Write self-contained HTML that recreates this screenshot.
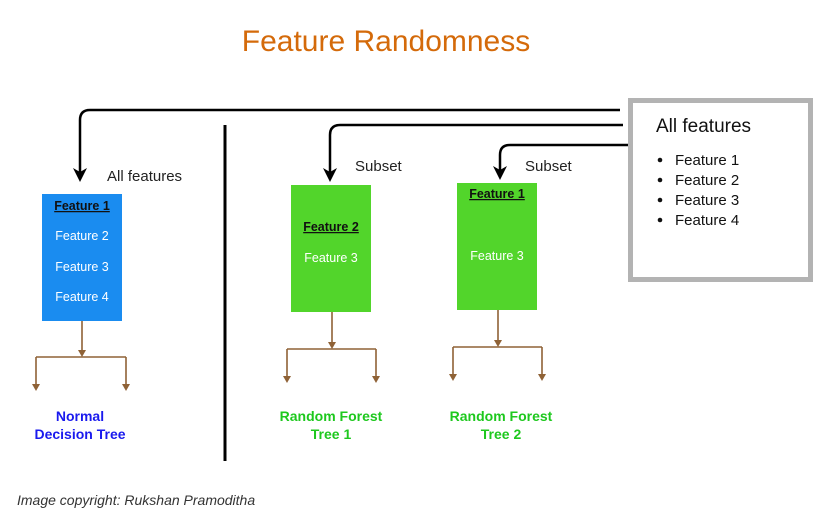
<!DOCTYPE html>
<html><head><style>
body{margin:0;background:#fff;width:823px;height:521px;overflow:hidden;font-family:"Liberation Sans",Arial,sans-serif}
</style></head><body>
<svg width="823" height="521" xmlns="http://www.w3.org/2000/svg" font-family="Liberation Sans, Arial, sans-serif">
<text x="386" y="51" font-size="30" fill="#d46a0a" text-anchor="middle">Feature Randomness</text>
<g fill="none" stroke="#000" stroke-width="2.5">
<path d="M620,110 H90 Q80,110 80,120 V172"/>
<path d="M623,125 H340 Q330,125 330,135 V172"/>
<path d="M630,145 H510 Q500,145 500,155 V170"/>
</g>
<g fill="#000">
<path d="M73,168 L80,182 L87,168 L80,172 Z"/>
<path d="M323,168 L330,182 L337,168 L330,172 Z"/>
<path d="M493,166 L500,180 L507,166 L500,170 Z"/>
</g>
<line x1="225" y1="125" x2="225" y2="461" stroke="#000" stroke-width="3"/>
<rect x="630.5" y="100.5" width="180" height="179" fill="#fff" stroke="#b3b3b3" stroke-width="5"/>
<text x="656" y="132" font-size="19" fill="#111">All features</text>
<g font-size="15" fill="#111">
<circle cx="660" cy="160" r="2.3"/><text x="675" y="165">Feature 1</text>
<circle cx="660" cy="180" r="2.3"/><text x="675" y="185">Feature 2</text>
<circle cx="660" cy="200" r="2.3"/><text x="675" y="205">Feature 3</text>
<circle cx="660" cy="220" r="2.3"/><text x="675" y="225">Feature 4</text>
</g>
<text x="107" y="181" font-size="15" fill="#222">All features</text>
<text x="355" y="171" font-size="15" fill="#222">Subset</text>
<text x="525" y="171" font-size="15" fill="#222">Subset</text>
<rect x="42" y="194" width="80" height="127" fill="#1a8cf0"/>
<rect x="291" y="185" width="80" height="127" fill="#52d52b"/>
<rect x="457" y="183" width="80" height="127" fill="#52d52b"/>
<g font-size="12.5" text-anchor="middle">
<text x="82" y="210" font-weight="bold" fill="#111" text-decoration="underline">Feature 1</text>
<text x="82" y="240" fill="#fff">Feature 2</text>
<text x="82" y="271" fill="#fff">Feature 3</text>
<text x="82" y="301" fill="#fff">Feature 4</text>
<text x="331" y="231" font-weight="bold" fill="#111" text-decoration="underline">Feature 2</text>
<text x="331" y="262" fill="#fff">Feature 3</text>
<text x="497" y="198" font-weight="bold" fill="#111" text-decoration="underline">Feature 1</text>
<text x="497" y="260" fill="#fff">Feature 3</text>
</g>
<g stroke="#8f6236" stroke-width="1.6" fill="none">
<path d="M82,321 V352 M36,357 H126 M36,357 V386 M126,357 V386"/>
<path d="M332,312 V344 M287,349 H376 M287,349 V378 M376,349 V378"/>
<path d="M498,310 V342 M453,347 H542 M453,347 V376 M542,347 V376"/>
</g>
<g fill="#8f6236">
<path d="M78,350 L82,357 L86,350 Z"/><path d="M32,384 L36,391 L40,384 Z"/><path d="M122,384 L126,391 L130,384 Z"/>
<path d="M328,342 L332,349 L336,342 Z"/><path d="M283,376 L287,383 L291,376 Z"/><path d="M372,376 L376,383 L380,376 Z"/>
<path d="M494,340 L498,347 L502,340 Z"/><path d="M449,374 L453,381 L457,374 Z"/><path d="M538,374 L542,381 L546,374 Z"/>
</g>
<g font-size="14" font-weight="bold" text-anchor="middle">
<text x="80" y="421" fill="#1a1aee">Normal</text>
<text x="80" y="439" fill="#1a1aee">Decision Tree</text>
<text x="331" y="421" fill="#1ec81e">Random Forest</text>
<text x="331" y="439" fill="#1ec81e">Tree 1</text>
<text x="501" y="421" fill="#1ec81e">Random Forest</text>
<text x="501" y="439" fill="#1ec81e">Tree 2</text>
</g>
<text x="17" y="505" font-size="14" font-style="italic" fill="#333">Image copyright: Rukshan Pramoditha</text>
</svg>
</body></html>
